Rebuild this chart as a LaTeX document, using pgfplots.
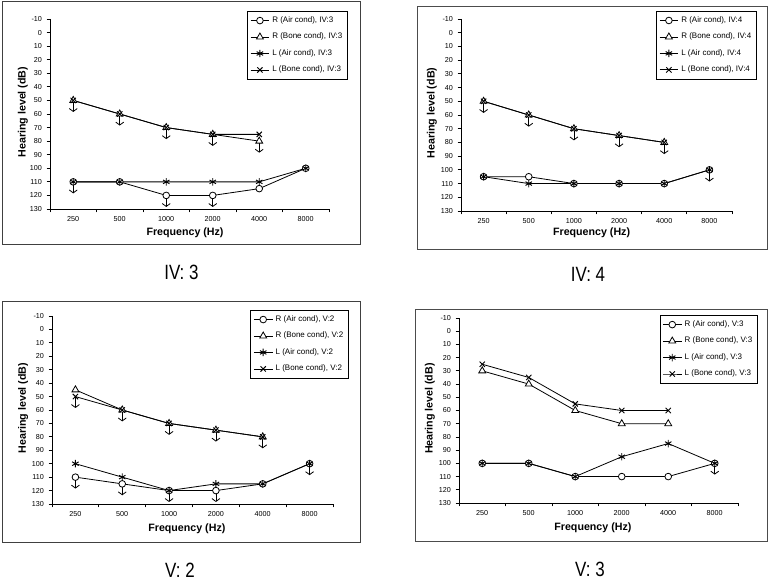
\documentclass[border=0pt]{standalone}
\usepackage{fontspec}
\setmainfont{Liberation Sans}
\newfontfamily\capfont[FakeStretch=0.82]{Liberation Sans}
\usepackage{pgfplots}
\pgfplotsset{compat=1.18}
\usetikzlibrary{arrows.meta}

\pgfplotsset{
  rair/.style={black, line width=0.6pt, mark=*, mark size=2.5pt, mark options={fill=white, line width=0.6pt}},
  rbone/.style={black, line width=0.6pt, mark=triangle*, mark size=3pt, mark options={fill=white, line width=0.6pt}},
  lair/.style={black, line width=0.6pt, mark=asterisk, mark size=2.8pt, mark options={line width=0.7pt}},
  lbone/.style={black, line width=0.6pt, mark=x, mark size=2.8pt, mark options={line width=0.7pt}},
  arr/.style={forget plot, black, line width=0.6pt, quiver={u=0,v=8.5}, -{Straight Barb[length=2.2pt,width=6pt]}},
  panel/.style={
    scale only axis, clip=false,
    xmin=-0.5, xmax=5.5, ymin=-10, ymax=130, y dir=reverse,
    axis x line*=bottom, axis y line*=left,
    axis line style={line width=0.7pt,-},
    every tick/.style={black, line width=0.6pt},
    tick align=outside, major tick length=2.5pt,
    ytick={-10,0,...,130},
    xtick={-0.5,0.5,...,5.5}, xticklabels={,,,,,,,},
    extra x ticks={0,1,2,3,4,5},
    extra x tick labels={250,500,1000,2000,4000,8000},
    extra x tick style={major tick length=0pt},
    /pgf/number format/assume math mode=true,
    tick label style={font=\fontsize{5.4}{6}\selectfont},
    xticklabel style={yshift=-2pt},
    xlabel={Frequency (Hz)}, ylabel={Hearing level (dB)},
    label style={font=\bfseries\fontsize{8}{9}\selectfont},
    legend cell align=left,
    legend image code/.code={\draw[mark repeat=2,mark phase=2] plot coordinates {(0pt,0pt)(7pt,0pt)(14pt,0pt)};},
    legend style={font=\fontsize{6}{7}\selectfont, draw=black, line width=0.5pt, row sep=2.5pt, inner sep=2pt, anchor=north east},
  }
}

\begin{document}
\begin{tikzpicture}
\useasboundingbox[fill=white] (0pt,0pt) rectangle (576.75pt,-435pt);
% panel frames
\draw[black!75, line width=0.75pt] (1.5pt,-1.5pt) rectangle (270pt,-183.75pt);
\draw[black!70, line width=0.75pt] (312.75pt,-5.25pt) rectangle (575.25pt,-187.5pt);
\draw[black!75, line width=0.75pt] (1.5pt,-226.5pt) rectangle (270pt,-407.25pt);
\draw[black!70, line width=0.75pt] (311.25pt,-232.5pt) rectangle (575.25pt,-406.5pt);
% captions
\tikzset{capt/.style={inner sep=0pt, font=\capfont\fontsize{15.5}{16}\selectfont}}
\node[capt] at (136.1pt,-204.4pt) {IV: 3};
\node[capt] at (441pt,-205.5pt) {IV: 4};
\node[capt] at (135pt,-427.5pt) {V: 2};
\node[capt] at (442.5pt,-426.8pt) {V: 3};

% ---------- Panel IV:3 ----------
\begin{axis}[panel, at={(37.5pt,-156.75pt)}, anchor=south west, width=209.25pt, height=142.5pt,
  xlabel style={at={(axis description cs:0.484,-0.126)}, anchor=center},
  ylabel style={at={(axis description cs:-0.097,0.51)}, anchor=center},
  legend style={at={(axis description cs:1.068,1.042)}}]
\addplot[rair] coordinates {(0,110) (1,110) (2,120) (3,120) (4,115) (5,100)};
\addlegendentry{R (Air cond), IV:3}
\addplot[rbone] coordinates {(0,50) (1,60) (2,70) (3,75) (4,80)};
\addlegendentry{R (Bone cond), IV:3}
\addplot[lair] coordinates {(0,110) (1,110) (2,110) (3,110) (4,110) (5,100)};
\addlegendentry{L (Air cond), IV:3}
\addplot[lbone] coordinates {(0,50) (1,60) (2,70) (3,75) (4,75)};
\addlegendentry{L (Bone cond), IV:3}
\addplot[arr] coordinates {(0,110) (2,120) (3,120) (0,50) (1,60) (2,70) (3,75) (4,80)};
\end{axis}

% ---------- Panel IV:4 ----------
\begin{axis}[panel, at={(345.75pt,-158.25pt)}, anchor=south west, width=203.25pt, height=144pt,
  xlabel style={at={(axis description cs:0.482,-0.115)}, anchor=center},
  ylabel style={at={(axis description cs:-0.107,0.51)}, anchor=center},
  legend style={at={(axis description cs:1.092,1.042)}}]
\addplot[rair] coordinates {(0,105) (1,105) (2,110) (3,110) (4,110) (5,100)};
\addlegendentry{R (Air cond), IV:4}
\addplot[rbone] coordinates {(0,50) (1,60) (2,70) (3,75) (4,80)};
\addlegendentry{R (Bone cond), IV:4}
\addplot[lair] coordinates {(0,105) (1,110) (2,110) (3,110) (4,110) (5,100)};
\addlegendentry{L (Air cond), IV:4}
\addplot[lbone] coordinates {(0,50) (1,60) (2,70) (3,75) (4,80)};
\addlegendentry{L (Bone cond), IV:4}
\addplot[arr] coordinates {(0,50) (1,60) (2,70) (3,75) (4,80) (5,100)};
\end{axis}

% ---------- Panel V:2 ----------
\begin{axis}[panel, at={(39pt,-378pt)}, anchor=south west, width=210.75pt, height=141pt,
  xlabel style={at={(axis description cs:0.48,-0.133)}, anchor=center},
  ylabel style={at={(axis description cs:-0.103,0.51)}, anchor=center},
  legend style={at={(axis description cs:1.057,1.032)}}]
\addplot[rair] coordinates {(0,110) (1,115) (2,120) (3,120) (4,115) (5,100)};
\addlegendentry{R (Air cond), V:2}
\addplot[rbone] coordinates {(0,45) (1,60) (2,70) (3,75) (4,80)};
\addlegendentry{R (Bone cond), V:2}
\addplot[lair] coordinates {(0,100) (1,110) (2,120) (3,115) (4,115) (5,100)};
\addlegendentry{L (Air cond), V:2}
\addplot[lbone] coordinates {(0,50) (1,60) (2,70) (3,75) (4,80)};
\addlegendentry{L (Bone cond), V:2}
\addplot[arr] coordinates {(0,50) (1,60) (2,70) (3,75) (4,80) (0,110) (1,115) (2,120) (3,120) (5,100)};
\end{axis}

% ---------- Panel V:3 ----------
\begin{axis}[panel, at={(344.25pt,-377.25pt)}, anchor=south west, width=209.25pt, height=138.75pt,
  xlabel style={at={(axis description cs:0.48,-0.135)}, anchor=center},
  ylabel style={at={(axis description cs:-0.104,0.51)}, anchor=center},
  legend style={at={(axis description cs:1.072,1.016)}}]
\addplot[rair] coordinates {(0,100) (1,100) (2,110) (3,110) (4,110) (5,100)};
\addlegendentry{R (Air cond), V:3}
\addplot[rbone] coordinates {(0,30) (1,40) (2,60) (3,70) (4,70)};
\addlegendentry{R (Bone cond), V:3}
\addplot[lair] coordinates {(0,100) (1,100) (2,110) (3,95) (4,85) (5,100)};
\addlegendentry{L (Air cond), V:3}
\addplot[lbone] coordinates {(0,25) (1,35) (2,55) (3,60) (4,60)};
\addlegendentry{L (Bone cond), V:3}
\addplot[arr] coordinates {(5,100)};
\end{axis}
\end{tikzpicture}
\end{document}
